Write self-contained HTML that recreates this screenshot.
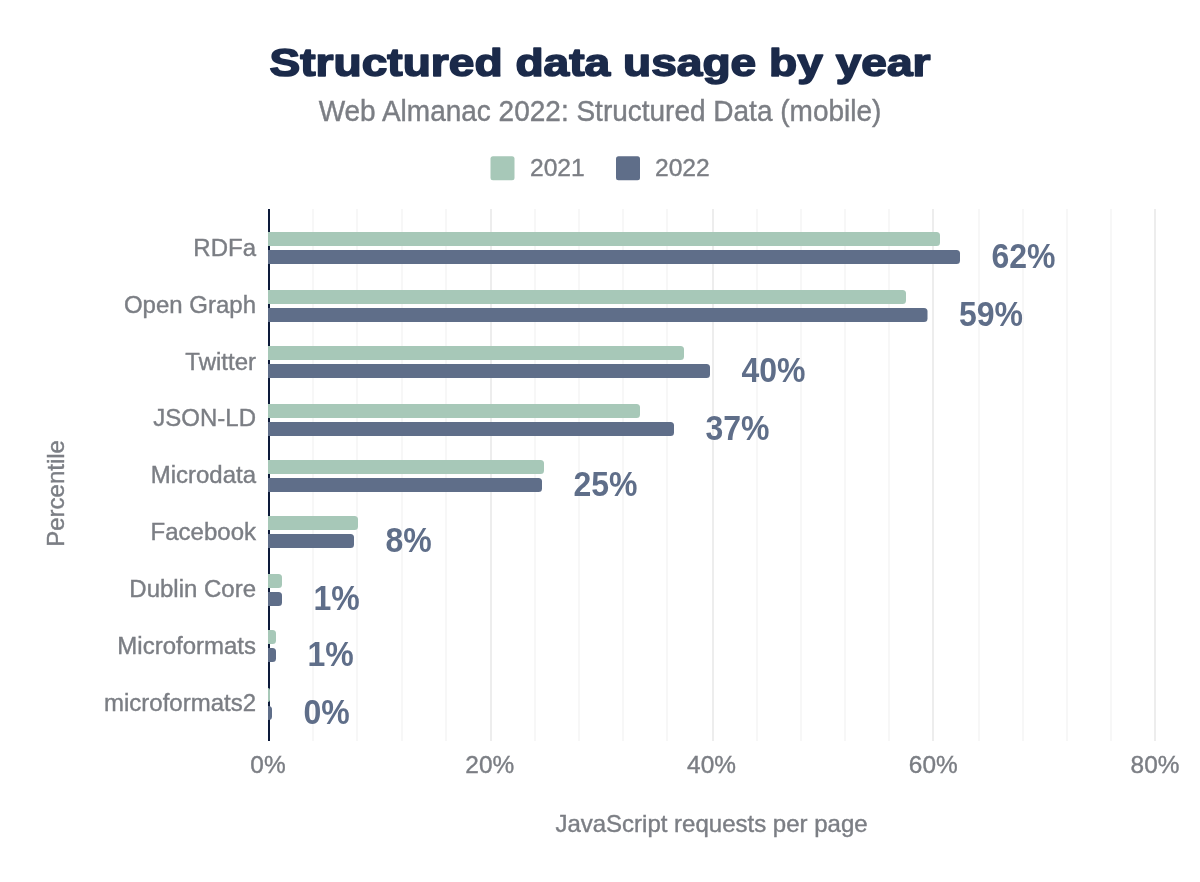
<!DOCTYPE html>
<html><head><meta charset="utf-8"><style>
html,body{margin:0;padding:0;background:#fff;width:1200px;height:882px;overflow:hidden}
svg{display:block;will-change:transform;font-family:"Liberation Sans",sans-serif}
.yl{font-size:24px;fill:#7b7e84;stroke:#7b7e84;stroke-width:0.4px}
.xl{font-size:24.4px;fill:#7b7e84;stroke:#7b7e84;stroke-width:0.4px}
.dl{font-size:32px;font-weight:bold;fill:#5f6e89}
.ttl{font-size:39px;font-weight:bold;fill:#1b2a4a;stroke:#1b2a4a;stroke-width:1.6px;stroke-linejoin:round}
.sub{font-size:28px;fill:#7b7e84;stroke:#7b7e84;stroke-width:0.4px}
.leg{font-size:24.6px;fill:#7b7e84;stroke:#7b7e84;stroke-width:0.4px}
.axt{font-size:24px;fill:#7b7e84;stroke:#7b7e84;stroke-width:0.4px}
</style></head><body>
<svg width="1200" height="882" viewBox="0 0 1200 882">
<rect width="1200" height="882" fill="#fff"/>
<text x="600" y="75.8" text-anchor="middle" class="ttl" textLength="661" lengthAdjust="spacingAndGlyphs">Structured data usage by year</text>
<text transform="translate(600,121.4) scale(1,1.06)" text-anchor="middle" class="sub">Web Almanac 2022: Structured Data (mobile)</text>
<rect x="490.5" y="156.3" width="24" height="24" rx="2.5" fill="#a7c8b8"/>
<text x="530" y="175.7" class="leg">2021</text>
<rect x="616" y="156.3" width="24" height="24" rx="2.5" fill="#5f6e89"/>
<text x="655" y="175.7" class="leg">2022</text>
<rect x="312" y="209" width="2" height="532" fill="#f7f7f7"/>
<rect x="356" y="209" width="2" height="532" fill="#f7f7f7"/>
<rect x="401" y="209" width="2" height="532" fill="#f7f7f7"/>
<rect x="445" y="209" width="2" height="532" fill="#f7f7f7"/>
<rect x="490" y="209" width="2" height="532" fill="#ededed"/>
<rect x="534" y="209" width="2" height="532" fill="#f7f7f7"/>
<rect x="578" y="209" width="2" height="532" fill="#f7f7f7"/>
<rect x="622" y="209" width="2" height="532" fill="#f7f7f7"/>
<rect x="666" y="209" width="2" height="532" fill="#f7f7f7"/>
<rect x="712" y="209" width="2" height="532" fill="#ededed"/>
<rect x="756" y="209" width="2" height="532" fill="#f7f7f7"/>
<rect x="800" y="209" width="2" height="532" fill="#f7f7f7"/>
<rect x="844" y="209" width="2" height="532" fill="#f7f7f7"/>
<rect x="888" y="209" width="2" height="532" fill="#f7f7f7"/>
<rect x="932" y="209" width="2" height="532" fill="#ededed"/>
<rect x="978" y="209" width="2" height="532" fill="#f7f7f7"/>
<rect x="1022" y="209" width="2" height="532" fill="#f7f7f7"/>
<rect x="1066" y="209" width="2" height="532" fill="#f7f7f7"/>
<rect x="1110" y="209" width="2" height="532" fill="#f7f7f7"/>
<rect x="1154" y="209" width="2" height="532" fill="#ededed"/>
<rect x="268" y="209" width="2" height="532" fill="#0d1a3a"/>
<path d="M268,232 H936.5 Q940,232 940,235.5 V242.5 Q940,246 936.5,246 H268 Z" fill="#a7c8b8"/>
<path d="M268,250 H956.5 Q960,250 960,253.5 V260.5 Q960,264 956.5,264 H268 Z" fill="#5f6e89"/>
<path d="M268,290 H902.5 Q906,290 906,293.5 V300.5 Q906,304 902.5,304 H268 Z" fill="#a7c8b8"/>
<path d="M268,308 H924.0 Q927.5,308 927.5,311.5 V318.5 Q927.5,322 924.0,322 H268 Z" fill="#5f6e89"/>
<path d="M268,346 H680.5 Q684,346 684,349.5 V356.5 Q684,360 680.5,360 H268 Z" fill="#a7c8b8"/>
<path d="M268,364 H706.5 Q710,364 710,367.5 V374.5 Q710,378 706.5,378 H268 Z" fill="#5f6e89"/>
<path d="M268,404 H636.5 Q640,404 640,407.5 V414.5 Q640,418 636.5,418 H268 Z" fill="#a7c8b8"/>
<path d="M268,422 H670.5 Q674,422 674,425.5 V432.5 Q674,436 670.5,436 H268 Z" fill="#5f6e89"/>
<path d="M268,460 H540.5 Q544,460 544,463.5 V470.5 Q544,474 540.5,474 H268 Z" fill="#a7c8b8"/>
<path d="M268,478 H538.5 Q542,478 542,481.5 V488.5 Q542,492 538.5,492 H268 Z" fill="#5f6e89"/>
<path d="M268,516 H354.5 Q358,516 358,519.5 V526.5 Q358,530 354.5,530 H268 Z" fill="#a7c8b8"/>
<path d="M268,534 H350.5 Q354,534 354,537.5 V544.5 Q354,548 350.5,548 H268 Z" fill="#5f6e89"/>
<path d="M268,574 H278.5 Q282,574 282,577.5 V584.5 Q282,588 278.5,588 H268 Z" fill="#a7c8b8"/>
<path d="M268,592 H278.5 Q282,592 282,595.5 V602.5 Q282,606 278.5,606 H268 Z" fill="#5f6e89"/>
<path d="M268,630 H272.5 Q276,630 276,633.5 V640.5 Q276,644 272.5,644 H268 Z" fill="#a7c8b8"/>
<path d="M268,648 H272.5 Q276,648 276,651.5 V658.5 Q276,662 272.5,662 H268 Z" fill="#5f6e89"/>
<path d="M268,688 H268 Q270,688 270,690 V700 Q270,702 268,702 H268 Z" fill="#a7c8b8"/>
<path d="M268,706 H268.5 Q272,706 272,709.5 V716.5 Q272,720 268.5,720 H268 Z" fill="#5f6e89"/>
<text transform="translate(256,255.60) scale(1,1.025)" text-anchor="end" class="yl">RDFa</text>
<text transform="translate(256,312.55) scale(1,1.025)" text-anchor="end" class="yl">Open Graph</text>
<text transform="translate(256,369.50) scale(1,1.025)" text-anchor="end" class="yl">Twitter</text>
<text transform="translate(256,426.45) scale(1,1.025)" text-anchor="end" class="yl">JSON-LD</text>
<text transform="translate(256,483.40) scale(1,1.025)" text-anchor="end" class="yl">Microdata</text>
<text transform="translate(256,540.35) scale(1,1.025)" text-anchor="end" class="yl">Facebook</text>
<text transform="translate(256,597.30) scale(1,1.025)" text-anchor="end" class="yl">Dublin Core</text>
<text transform="translate(256,654.25) scale(1,1.025)" text-anchor="end" class="yl">Microformats</text>
<text transform="translate(256,711.20) scale(1,1.025)" text-anchor="end" class="yl">microformats2</text>
<text transform="translate(991.5,268) scale(1,1.08)" class="dl">62%</text>
<text transform="translate(959.0,326) scale(1,1.08)" class="dl">59%</text>
<text transform="translate(741.5,382) scale(1,1.08)" class="dl">40%</text>
<text transform="translate(705.5,440) scale(1,1.08)" class="dl">37%</text>
<text transform="translate(573.5,496) scale(1,1.08)" class="dl">25%</text>
<text transform="translate(385.5,552) scale(1,1.08)" class="dl">8%</text>
<text transform="translate(313.5,610) scale(1,1.08)" class="dl">1%</text>
<text transform="translate(307.5,666) scale(1,1.08)" class="dl">1%</text>
<text transform="translate(303.5,724) scale(1,1.08)" class="dl">0%</text>
<text x="268.00" y="772.9" text-anchor="middle" class="xl">0%</text>
<text x="489.75" y="772.9" text-anchor="middle" class="xl">20%</text>
<text x="711.50" y="772.9" text-anchor="middle" class="xl">40%</text>
<text x="933.25" y="772.9" text-anchor="middle" class="xl">60%</text>
<text x="1155.00" y="772.9" text-anchor="middle" class="xl">80%</text>
<text x="711.5" y="832.4" text-anchor="middle" class="axt">JavaScript requests per page</text>
<text transform="translate(63.6,493.4) rotate(-90)" x="0" y="0" text-anchor="middle" class="axt">Percentile</text>
</svg>
</body></html>
